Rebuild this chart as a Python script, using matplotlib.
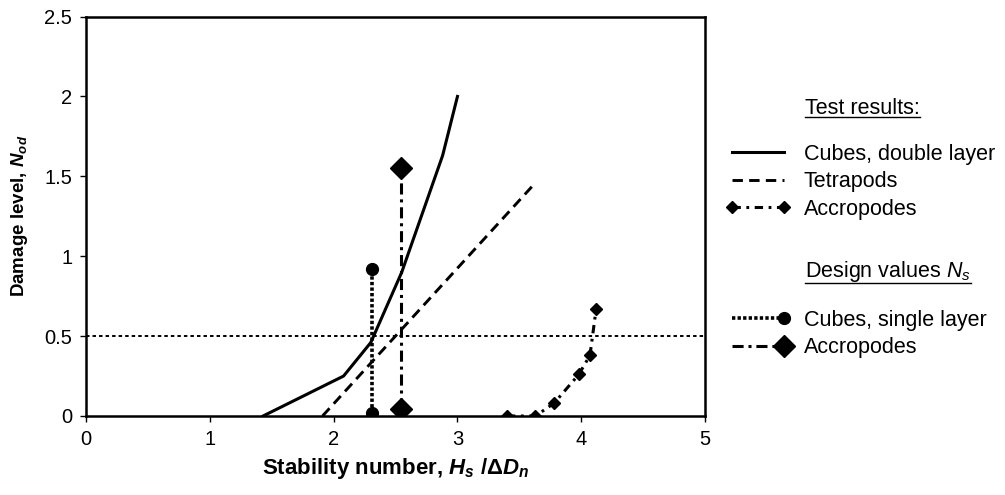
import numpy as np
import matplotlib
matplotlib.use('Agg')
import matplotlib.pyplot as plt
from matplotlib.lines import Line2D
from matplotlib.legend_handler import HandlerLine2D

plt.rcParams['font.family'] = ['Liberation Sans', 'DejaVu Sans']
plt.rcParams['mathtext.fontset'] = 'custom'
plt.rcParams['mathtext.rm'] = 'Liberation Sans'
plt.rcParams['mathtext.it'] = 'Liberation Sans:italic'
plt.rcParams['mathtext.bf'] = 'Liberation Sans:bold'
plt.rcParams['mathtext.bfit'] = 'Liberation Sans:bold:italic'
plt.rcParams['lines.scale_dashes'] = False

# test results
cubes_double_x = [1.43, 2.08, 2.30, 2.55, 2.88, 3.00]
cubes_double_y = [0.0, 0.25, 0.46, 0.90, 1.63, 2.00]
tetrapods_x = [1.91, 3.63]
tetrapods_y = [0.0, 1.46]
accro_test_x = [3.40, 3.63, 3.78, 3.98, 4.07, 4.12]
accro_test_y = [0.0, 0.0, 0.08, 0.26, 0.38, 0.67]

# design values Ns
cubes_single_x = [2.31, 2.31]
cubes_single_y = [0.02, 0.92]
accro_design_x = [2.54, 2.54]
accro_design_y = [0.045, 1.555]

damage_limit = 0.5
xticks = [0, 1, 2, 3, 4, 5]
yticks = [0, 0.5, 1, 1.5, 2, 2.5]
ytick_labels = ['0', '0.5', '1', '1.5', '2', '2.5']


class EndMarker(HandlerLine2D):
    # marker only at the right end of the legend sample
    def update_prop(self, legend_handle, orig_handle, legend):
        super().update_prop(legend_handle, orig_handle, legend)
        legend_handle.set_markevery([1])


fig = plt.figure(figsize=(10.05, 4.95), dpi=100)
ax = fig.add_axes([0.0856, 0.1596, 0.616, 0.807])

ax.axhline(damage_limit, color='black', lw=1.4, linestyle=(0, (2.5, 2.2)))

ax.plot(cubes_double_x, cubes_double_y, color='black', lw=2.2)
ax.plot(tetrapods_x, tetrapods_y, color='black', lw=2.1,
        linestyle=(0, (7.5, 4.5)))
ax.plot(accro_test_x, accro_test_y, color='black', lw=2.2,
        linestyle=(0, (6, 4, 2, 4)), marker='D', ms=6.6)
ax.plot(cubes_single_x, cubes_single_y, color='black', lw=2.6,
        linestyle=(0, (2.4, 1.6)), dash_capstyle='butt',
        marker='o', ms=8.5)
ax.plot(accro_design_x, accro_design_y, color='black', lw=2.2,
        linestyle=(0, (8, 3.5, 2.2, 3.5)), marker='D', ms=11.5)

ax.set_xlim(0, 5)
ax.set_ylim(0, 2.5)
ax.set_xticks(xticks)
ax.set_xticklabels([str(v) for v in xticks])
ax.set_yticks(yticks)
ax.set_yticklabels(ytick_labels)
ax.tick_params(direction='out', length=4, width=1, labelsize=14.5, pad=6)
for s in ax.spines.values():
    s.set_linewidth(1.8)

ax.set_xlabel(r'Stability number, $\mathbfit{H_s}$ /Δ$\mathbfit{D_n}$',
              fontsize=16, fontweight='bold', labelpad=5)
ax.set_ylabel(r'Damage level, $\mathbfit{N_{od}}$',
              fontsize=13.5, fontweight='bold', labelpad=10)

h1 = Line2D([], [], color='black', lw=2.2)
h2 = Line2D([], [], color='black', lw=2.1, linestyle=(0, (7.5, 4.5)))
h3 = Line2D([], [], color='black', lw=2.2, linestyle=(0, (6, 4, 2, 4)),
            marker='D', ms=6.6)
h4 = Line2D([], [], color='black', lw=2.6, linestyle=(0, (2.4, 1.6)),
            dash_capstyle='butt', marker='o', ms=8.5)
h5 = Line2D([], [], color='black', lw=2.2, linestyle=(0, (8, 3.5, 2.2, 3.5)),
            marker='D', ms=11.5)

leg_kw = dict(loc='upper left', frameon=False, fontsize=15.5, numpoints=2,
              handlelength=3.0, handletextpad=0.6, labelspacing=0.3,
              borderpad=0, borderaxespad=0, bbox_transform=fig.transFigure)
leg1 = ax.legend([h1, h2, h3], ['Cubes, double layer', 'Tetrapods', 'Accropodes'],
                 bbox_to_anchor=(726 / 1005, 1 - 144 / 495), **leg_kw)
ax.add_artist(leg1)
leg2 = ax.legend([h4, h5], ['Cubes, single layer', 'Accropodes'],
                 bbox_to_anchor=(726 / 1005, 1 - 310 / 495),
                 handler_map={h4: EndMarker(), h5: EndMarker()}, **leg_kw)

t1 = fig.text(805 / 1005, 1 - 108 / 495, 'Test results:', fontsize=15.5,
              va='center', ha='left')
t2 = fig.text(805 / 1005, 1 - 272 / 495, r'Design values $N_s$', fontsize=15.5,
              va='center', ha='left')

fig.canvas.draw()
r = fig.canvas.get_renderer()
for t in (t1, t2):
    bb = t.get_window_extent(r).transformed(fig.transFigure.inverted())
    fig.add_artist(Line2D([bb.x0, bb.x1], [bb.y0 + 0.004, bb.y0 + 0.004],
                          color='black', lw=1.0, transform=fig.transFigure))

fig.savefig('out.png', dpi=100)
